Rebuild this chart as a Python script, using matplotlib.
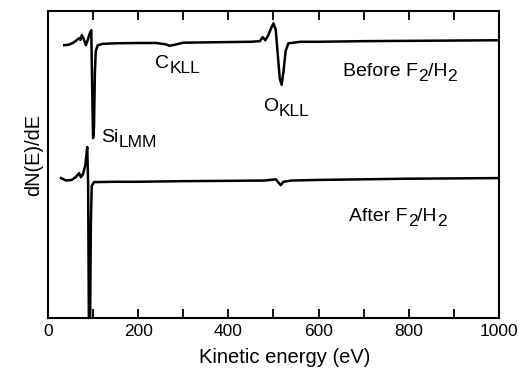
import numpy as np
import matplotlib.pyplot as plt
from matplotlib.ticker import MultipleLocator, FuncFormatter

plt.rcParams['font.family'] = ['Liberation Sans', 'DejaVu Sans']

# spectrum before F2/H2 treatment (kinetic energy eV, dN/dE arb. units)
before_e = [36, 45, 55, 62, 69, 72, 75, 79, 84, 88, 92, 96, 98, 100, 102, 104, 106,
            110, 120, 150, 200, 240, 260, 270, 280, 300, 350, 400, 450, 470, 476, 482,
            488, 495, 500, 505, 510, 514, 518, 522, 527, 533, 560, 600, 700, 800, 900, 1000]
before_s = [88.9, 89.0, 89.6, 90.3, 91.2, 90.6, 92.2, 91.0, 88.9, 90.5, 92.5, 93.8, 75.0,
            58.6, 62.0, 80.0, 87.0, 88.8, 89.3, 89.5, 89.6, 89.6, 89.2, 88.7, 89.0,
            89.7, 89.8, 89.9, 90.0, 90.2, 91.5, 90.5, 92.0, 94.5, 96.0, 94.0, 85.0, 78.0,
            76.0, 80.0, 87.0, 89.5, 90.0, 90.0, 90.2, 90.3, 90.4, 90.5]

# spectrum after F2/H2 treatment
after_e = [29, 40, 53, 62, 69, 73, 78, 83, 87, 89, 91, 93, 95, 97, 102, 110, 150,
           200, 300, 400, 480, 505, 512, 516, 522, 540, 600, 700, 800, 900, 1000]
after_s = [45.6, 44.8, 45.0, 46.0, 47.2, 45.9, 47.0, 50.0, 55.7, 44.0, -10.0, -10.0,
           30.0, 43.0, 44.3, 44.3, 44.4, 44.4, 44.6, 44.7, 44.8, 45.2, 44.0, 43.3, 44.4,
           44.8, 45.0, 45.2, 45.4, 45.5, 45.6]

fig = plt.figure(figsize=(5.25, 3.69), dpi=100)
ax = fig.add_axes([0.0914, 0.138, 0.859, 0.832])

ax.plot(before_e, before_s, color='black', lw=1.8)
ax.plot(after_e, after_s, color='black', lw=1.8)

ax.set_xlim(0, 1000)
ax.set_ylim(0, 100)
ax.xaxis.set_major_locator(MultipleLocator(100))
ax.xaxis.set_major_formatter(FuncFormatter(lambda v, p: f'{v:.0f}' if round(v) % 200 == 0 else ''))
ax.tick_params(axis='x', direction='in', top=True, length=6.5, width=1.3, labelsize=12.5, pad=4)
ax.set_yticks([])
for s in ax.spines.values():
    s.set_linewidth(1.5)

ax.set_xlabel('Kinetic energy (eV)', fontsize=14.5)
ax.xaxis.set_label_coords(0.524, -0.098)
ax.set_ylabel('dN(E)/dE', fontsize=14.3)
ax.yaxis.set_label_coords(-0.011, 0.531)


# peak / curve labels: subscripts are almost full size and sit well below the baseline
def draw(x, y, parts):
    fig.canvas.draw()
    r = fig.canvas.get_renderer()
    xpix, ypix = ax.transData.transform((x, y))
    for txt, sub in parts:
        size = 12.5 if sub else 14
        t = fig.text(xpix / fig.dpi / fig.get_figwidth(),
                     (ypix - (5 if sub else 0)) / fig.dpi / fig.get_figheight(),
                     txt, fontsize=size, va='baseline')
        xpix = t.get_window_extent(r).x1


draw(238, 81.3, [('C', False), ('KLL', True)])
draw(118, 57.2, [('Si', False), ('LMM', True)])
draw(478, 67.5, [('O', False), ('KLL', True)])
draw(655, 79, [('Before F', False), ('2', True), ('/H', False), ('2', True)])
draw(668, 31.5, [('After F', False), ('2', True), ('/H', False), ('2', True)])

fig.savefig('out.png', dpi=100)
